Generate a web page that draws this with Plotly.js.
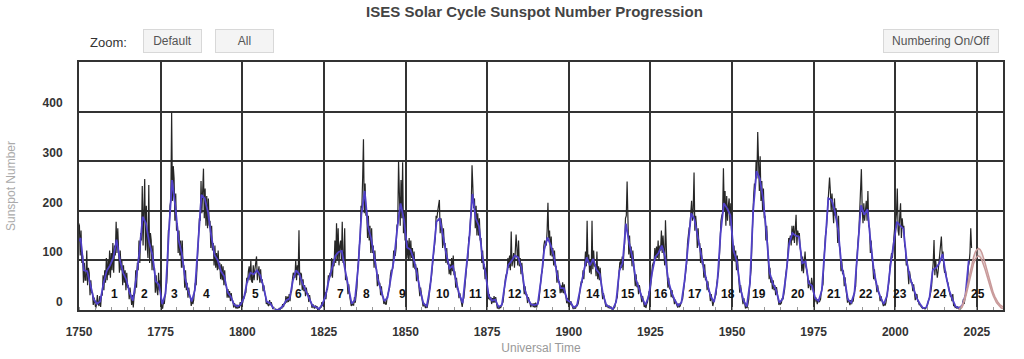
<!DOCTYPE html>
<html><head><meta charset="utf-8">
<script src="https://cdn.plot.ly/plotly-3.0.1.min.js"></script>
<style>html,body{margin:0;padding:0;background:#fff}#chart{width:1024px;height:359px}</style>
</head><body><div id="chart"></div>
<script>
// Sampled monthly sunspot numbers, 4 samples per year, starting 1749 (one decade per line)
const SAMPLE_START = 1749;
const sunspotSamples = [
100,165,110,175, 170,110,160,95, 110,55,95,60, 60,120,50,85, 75,30,60,35, 35,10,25,8, 3,12,30,15, 8,28,6,30, 30,70,40,80, 55,105,60,100,
70,120,65,115, 80,135,75,130, 110,178,115,165, 130,75,120,80, 100,50,90,55, 80,40,75,45, 50,22,45,25, 10,30,5,28, 35,80,45,95, 80,140,95,155,
140,250,130,200, 264,120,210,130, 105,252,95,155, 140,80,130,80, 85,35,70,40, 30,75,40,60, 22,5,3,18, 12,35,45,55, 90,160,165,210, 220,398,220,290,
265,180,235,160, 175,115,160,110, 140,85,140,85, 90,45,80,40, 55,25,45,28, 25,8,22,12, 20,40,55,50, 90,140,150,185, 180,260,195,245, 285,185,245,170,
230,165,225,170, 180,125,170,120, 135,90,130,85, 115,80,120,82, 95,62,92,60, 88,50,80,50, 50,25,42,25, 38,18,34,20, 18,5,14,7, 3,11,3,10,
4,16,8,17, 14,26,25,33, 35,65,55,78, 88,60,100,58, 55,90,60,82, 95,108,60,85, 88,55,82,55, 62,38,50,35, 28,12,16,10, 8,20,10,16,
7,2,6,1, 0,0,1,0, 0,4,1,5, 4,12,6,14, 12,28,15,27, 16,32,18,34, 38,62,75,72, 65,100,60,90, 70,161,50,75, 72,40,62,38,
50,28,45,32, 34,16,30,18, 14,4,12,6, 3,9,4,8, 0,4,1,5, 5,16,8,17, 16,36,22,40, 42,70,60,75, 68,105,65,100, 88,140,95,175,
100,165,90,130, 140,100,178,95, 100,165,60,70, 60,32,52,30, 20,8,14,10, 10,26,15,32, 45,85,100,130, 145,210,205,265, 344,195,255,190, 200,145,190,140,
170,115,165,115, 130,85,120,85, 82,48,72,50, 55,30,48,28, 26,12,20,12, 12,26,32,38, 45,70,80,80, 85,120,110,110, 125,170,175,300, 240,170,262,185,
298,155,200,140, 150,105,140,100, 145,100,140,105, 125,85,118,82, 92,58,85,60, 55,28,45,30, 20,7,14,8, 4,12,4,14, 22,45,52,62, 80,110,115,130,
145,190,185,200, 210,222,155,185, 170,125,165,130, 135,95,125,92, 98,72,92,70, 105,78,110,70, 78,45,65,42, 42,24,34,22, 8,6,20,24, 42,72,80,100,
105,145,150,180, 205,292,250,205, 225,165,210,150, 195,150,185,140, 145,95,120,82, 92,62,85,58, 40,22,32,20, 26,12,24,15, 28,15,26,14, 3,9,2,7,
4,9,14,16, 32,55,65,72, 75,105,85,110, 80,158,88,100, 115,85,135,152, 125,90,140,88, 105,72,95,68, 56,32,48,30, 32,14,26,15, 14,6,12,12,
6,14,5,15, 4,12,14,20, 38,60,72,78, 95,130,140,135, 130,160,216,145, 160,110,148,108, 125,90,120,88, 88,55,80,55, 58,34,50,35, 56,34,52,34,
28,14,24,12, 20,10,18,12, 7,2,6,3, 4,10,9,13, 22,40,50,58, 55,80,62,90, 118,88,180,95, 112,75,102,72, 180,82,120,88, 92,68,118,62,
88,60,85,58, 44,22,34,22, 14,6,11,8, 4,9,3,7, 3,0,2,4, 6,17,22,26, 52,80,95,98, 85,108,80,118, 135,185,190,259, 170,112,150,105,
128,88,120,90, 82,48,72,46, 56,32,50,36, 32,16,28,18, 6,14,4,12, 16,28,38,32, 52,76,90,95, 95,125,100,128, 105,140,100,130, 120,160,115,150,
125,90,181,85, 75,45,65,42, 46,26,40,25, 25,12,21,14, 11,5,13,6, 8,16,19,22, 38,60,75,78, 95,135,160,165, 170,215,220,180, 205,277,160,190,
170,125,165,130, 135,95,125,92, 98,65,92,60, 66,40,58,38, 36,18,32,20, 8,16,20,24, 32,55,70,76, 105,155,180,190, 195,286,200,240, 170,230,180,210,
225,170,215,160, 145,100,130,98, 120,80,110,82, 60,35,50,34, 28,12,24,15, 3,10,4,12, 22,48,70,85, 140,205,230,255, 245,300,265,359, 290,240,310,220,
260,200,245,185, 190,140,170,130, 105,62,85,55, 66,42,60,40, 50,30,46,30, 20,10,16,12, 14,24,22,30, 42,68,78,90, 115,145,140,150, 130,170,140,170,
135,165,192,130, 160,150,155,125, 115,78,108,74, 105,118,88,82, 70,44,60,42, 40,65,48,38, 28,16,26,20, 12,22,16,18, 22,38,48,52, 95,135,150,160,
190,225,230,267, 240,200,235,195, 175,225,190,205, 185,135,190,130, 120,78,98,72, 80,48,66,45, 28,15,23,15, 10,20,12,18, 18,32,42,48, 90,125,140,160,
195,245,284,205, 175,215,180,200, 220,180,240,170, 165,115,140,105, 92,62,82,60, 55,36,50,35, 32,18,28,20, 15,8,14,9, 14,26,38,42, 60,88,105,115,
105,140,150,170, 175,195,245,160, 150,190,215,145, 185,165,170,130, 125,90,100,78, 52,78,58,55, 55,38,52,34, 20,30,32,18, 16,10,12,7, 5,3,4,2,
2,4,7,10, 18,22,28,36, 48,75,95,141, 70,100,85,65, 78,95,115,125, 148,110,118,88, 75,80,62,58, 55,38,35,28, 28,18,32,8, 10,5,6,3,
7,3,1,1, 4,6,10,22, 12,25,38,42, 52,88,95,115, 165,125
];

// Smoothed sunspot number, one value per year, starting 1749
const SMOOTH_START = 1749;
const sunspotSmoothed = [
135,145,80,78,51,22,12,17,54,79,
90,105,142,102,75,61,35,19,63,116,
188,175,136,111,58,51,12,33,154,262,
210,141,114,64,38,17,40,138,232,225,
197,150,111,100,78,68,36,27,11,7,
11,24,57,75,72,80,70,47,17,14,
4,0,2,8,20,23,59,80,72,53,
39,24,9,6,2,11,28,60,83,109,
117,119,81,44,13,20,86,193,240,169,
143,106,63,40,18,25,66,103,166,215,
183,126,122,103,74,39,13,8,43,104,
178,185,147,113,84,89,58,31,14,72,
141,234,185,169,110,75,28,19,21,6,
10,54,91,99,110,106,86,42,22,11,
10,12,60,122,146,130,107,69,44,44,
20,16,5,9,41,70,106,90,103,81,
73,31,10,6,2,16,79,95,174,135,
106,63,44,24,10,28,74,107,115,130,
108,59,35,19,9,15,60,133,195,183,
148,113,79,51,27,16,55,154,215,205,
191,119,98,45,20,7,54,201,280,265,
225,159,76,53,40,15,22,67,133,155,
150,148,94,98,54,49,23,18,39,131,
225,222,199,162,91,61,21,15,34,123,
211,192,203,133,76,45,25,12,29,88,
136,178,170,164,99,65,46,25,13,4,
5,25,81,85,94,113,70,40,22,7,
4,9,30,100
];

// Cycle 25 predicted range
const predYears = [2019.5,2020,2020.5,2021,2021.5,2022,2022.5,2023,2023.5,2024,2024.5,2025,2025.5,2026,2026.5,2027,2027.5,2028,2028.5,2029,2029.5,2030,2030.5,2031,2031.5,2032,2032.5,2033];
const predHigh = [1,4,9,18,30,45,62,79,95,107,117,122,124,122,116,107,95,83,70,57,45,35,27,20,15,11,8,6];
const predLow  = [0,2,6,14,25,38,53,68,82,94,102,107,109,107,101,93,82,71,59,48,38,29,21,15,11,7,4,3];

// Cycle numbering
const cycleNumbers = ['1','2','3','4','5','6','7','8','9','10','11','12','13','14','15','16','17','18','19','20','21','22','23','24','25'];
const cycleCenters = [1761.0,1770.1,1779.2,1789.1,1804.1,1817.3,1830.1,1838.2,1849.1,1861.5,1871.5,1883.5,1894.4,1907.3,1918.2,1928.2,1938.6,1948.8,1958.3,1970.2,1981.2,1991.0,2001.6,2013.8,2025.4];

const xTickVals = [1750,1775,1800,1825,1850,1875,1900,1925,1950,1975,2000,2025];
const yTickVals = [0,100,200,300,400];

const FONT = '"Liberation Sans", Arial, sans-serif';
const sampleX = sunspotSamples.map((v, i) => SAMPLE_START + (i + 0.5) / 4);
const smoothX = sunspotSmoothed.map((v, i) => SMOOTH_START + i + 0.5);

const traces = [
  {x: sampleX, y: sunspotSamples, type: 'scatter', mode: 'lines', line: {color: '#262626', width: 1.2}, hoverinfo: 'skip', showlegend: false},
  {x: smoothX, y: sunspotSmoothed, type: 'scatter', mode: 'lines', line: {color: '#5040c8', width: 1.8}, hoverinfo: 'skip', showlegend: false},
  {x: predYears, y: predLow, type: 'scatter', mode: 'lines', line: {color: '#c99a9a', width: 1.5}, hoverinfo: 'skip', showlegend: false},
  {x: predYears, y: predHigh, type: 'scatter', mode: 'lines', fill: 'tonexty', fillcolor: 'rgba(200,170,170,0.35)', line: {color: '#c99a9a', width: 1.5}, hoverinfo: 'skip', showlegend: false}
];

const L = 79, T = 62, W = 924, H = 248;
const px2x = p => (p - L) / W;
const py2y = p => (T + H - p) / H;

const buttonStyle = {xref: 'paper', yref: 'paper', showarrow: false, bgcolor: '#f4f4f4', bordercolor: '#d8d8d8', borderwidth: 1, borderpad: 0, height: 22, font: {family: FONT, size: 12, color: '#555'}, captureevents: true, xanchor: 'center', yanchor: 'middle'};

const annotations = [
  {text: 'Zoom:', xref: 'paper', yref: 'paper', x: px2x(108), y: py2y(42), showarrow: false, font: {family: FONT, size: 13, color: '#333'}, xanchor: 'center', yanchor: 'middle'},
  Object.assign({}, buttonStyle, {text: 'Default', x: px2x(172.5), y: py2y(41), width: 57}),
  Object.assign({}, buttonStyle, {text: 'All', x: px2x(244), y: py2y(41), width: 57}),
  Object.assign({}, buttonStyle, {text: 'Numbering On/Off', x: px2x(941), y: py2y(41), width: 114})
];
cycleNumbers.forEach((c, i) => annotations.push({
  text: c, xref: 'x', yref: 'y', x: cycleCenters[i], y: 32, showarrow: false, name: 'cycle',
  font: {family: FONT, size: 12, color: '#111', weight: 'bold'}, xanchor: 'center', yanchor: 'middle'
}));

const layout = {
  width: 1024, height: 359,
  margin: {l: L, r: 1024 - L - W, t: T, b: 359 - T - H, pad: 0},
  paper_bgcolor: '#fff', plot_bgcolor: '#fff',
  font: {family: FONT},
  title: {text: '<b>ISES Solar Cycle Sunspot Number Progression</b>', font: {family: FONT, size: 15, color: '#444'}, x: 534.5 / 1024, xref: 'container', xanchor: 'center', y: 1 - 12 / 359, yref: 'container', yanchor: 'middle'},
  xaxis: {
    range: [1750, 2033], tickvals: xTickVals, ticktext: xTickVals.map(String), ticks: '',
    tickfont: {family: FONT, size: 12, color: '#333', weight: 'bold'}, ticklabelstandoff: 10,
    showgrid: true, gridcolor: '#333', gridwidth: 1.5, zeroline: false,
    showline: true, linecolor: '#333', linewidth: 2, mirror: true,
    minor: {dtick: 5, tick0: 1750, ticks: 'inside', ticklen: 3, tickcolor: '#999', showgrid: false},
    title: {text: 'Universal Time', font: {family: FONT, size: 12, color: '#999'}, standoff: 5}
  },
  yaxis: {
    range: [0, 500], tickvals: yTickVals, ticktext: yTickVals.map(String), ticks: '',
    tickfont: {family: FONT, size: 12, color: '#333', weight: 'bold'}, ticklabelstandoff: 12,
    ticklabelposition: 'outside top',
    showgrid: true, gridcolor: '#333', gridwidth: 1.5, zeroline: false,
    showline: true, linecolor: '#333', linewidth: 2, mirror: true,
    title: {text: 'Sunspot Number', font: {family: FONT, size: 12, color: '#aaa'}, standoff: 24}
  },
  annotations: annotations,
  showlegend: false
};

const gd = document.getElementById('chart');
Plotly.newPlot(gd, traces, layout, {displayModeBar: false}).then(() => {
  gd.on('plotly_clickannotation', ev => {
    const t = ev.annotation.text;
    if (t === 'Default') Plotly.relayout(gd, {'xaxis.range': [1750, 2033], 'yaxis.range': [0, 500]});
    else if (t === 'All') Plotly.relayout(gd, {'xaxis.range': [SAMPLE_START, 2033], 'yaxis.range': [0, 500]});
    else if (t === 'Numbering On/Off') {
      const upd = {};
      gd.layout.annotations.forEach((a, i) => { if (a.name === 'cycle') upd['annotations[' + i + '].visible'] = a.visible === false; });
      Plotly.relayout(gd, upd);
    }
  });
});
</script>
</body></html>
